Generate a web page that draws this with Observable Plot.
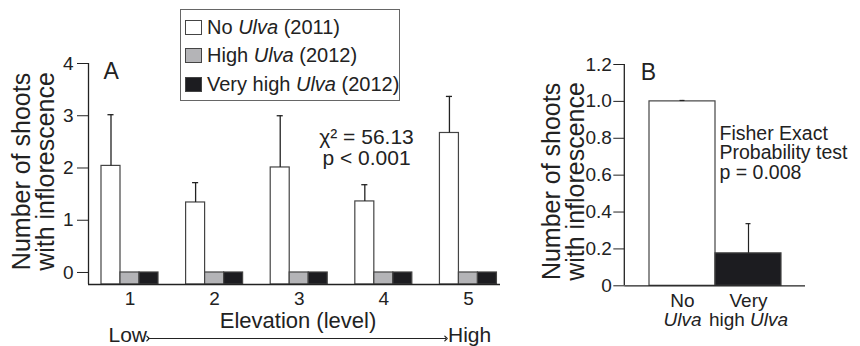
<!DOCTYPE html>
<html><head><meta charset="utf-8">
<script src="https://cdn.jsdelivr.net/npm/d3@7"></script>
<script src="https://cdn.jsdelivr.net/npm/@observablehq/plot@0.6"></script>
<style>
body{margin:0;background:#fff;font-family:"Liberation Sans",Arial,sans-serif;}
#wrap{position:relative;width:860px;height:346px;overflow:hidden;background:#fff;}
#a{position:absolute;left:0;top:0;}
#b{position:absolute;left:520px;top:0;}
#legend{position:absolute;left:180px;top:9px;width:220px;height:92px;border:1px solid #666;box-sizing:border-box;background:#fff;font-size:20px;color:#222;}
.row{position:absolute;left:4px;height:20px;display:flex;align-items:center;white-space:nowrap;}
.sw{width:17px;height:15px;border:1px solid #444;box-sizing:border-box;margin-right:5px;}
</style></head>
<body>
<div id="wrap"><div id="a"></div><div id="b"></div><div id="legend"></div></div>
<script>
// ---- data ----
const levels = [1, 2, 3, 4, 5];
const seriesA = ["No Ulva (2011)", "High Ulva (2012)", "Very high Ulva (2012)"];
const noUlva = [2.04, 1.34, 2.01, 1.36, 2.67];
const noUlvaErrTop = [3.02, 1.72, 3.0, 1.68, 3.37];
const highUlva = [0, 0, 0, 0, 0];
const veryHighUlva = [0, 0, 0, 0, 0];
const yTicksA = [0, 1, 2, 3, 4];

const groupsB = ["No Ulva", "Very high Ulva"];
const valuesB = [1.0, 0.176];
const errTopB = [1.005, 0.337];
const yTicksB = [0, 0.2, 0.4, 0.6, 0.8, 1.0, 1.2];

// ---- panel A ----
const font = "'Liberation Sans', Arial, sans-serif";
const ink = "#222";
const yMinA = -0.23;
const xDomA = [0.5095, 5.379];
const bw = 0.2246;
const rowsA = levels.flatMap((g, i) => [
  {g, k: 0, s: seriesA[0], v: noUlva[i]},
  {g, k: 1, s: seriesA[1], v: highUlva[i]},
  {g, k: 2, s: seriesA[2], v: veryHighUlva[i]}
]);
const errA = levels.map((g, i) => ({g, v: noUlva[i], e: noUlvaErrTop[i]}));
const cap = 0.036;
const arrowX = [1.2127, 4.7348];
const arrowY = -1.2636;

const plotA = Plot.plot({
  width: 520, height: 346,
  marginLeft: 88, marginRight: 20, marginTop: 63, marginBottom: 62,
  style: {fontFamily: font, fontSize: "19px", color: ink, background: "transparent", overflow: "visible"},
  x: {type: "linear", domain: xDomA},
  y: {domain: [yMinA, 4]},
  color: {domain: seriesA, range: ["#ffffff", "#b4b4b7", "#1c1c20"]},
  marks: [
    Plot.rectY(rowsA, {x1: d => d.g + (d.k - 1.5) * bw, x2: d => d.g + (d.k - 0.5) * bw, y1: yMinA, y2: "v", fill: "s", stroke: "#444", strokeWidth: 1.2}),
    Plot.ruleX(errA, {x: d => d.g - bw, y1: "v", y2: "e", stroke: ink, strokeWidth: 1.3}),
    Plot.ruleY(errA, {x1: d => d.g - bw - cap, x2: d => d.g - bw + cap, y: "e", stroke: ink, strokeWidth: 1.3}),
    Plot.ruleY([yMinA], {stroke: ink, strokeWidth: 1.3}),
    Plot.ruleX([xDomA[0]], {stroke: ink, strokeWidth: 1.3}),
    Plot.axisY({ticks: yTicksA, tickFormat: d => String(d), tickSize: 11, tickPadding: 4, fontSize: 19, label: null, stroke: ink}),
    Plot.axisX({ticks: levels, tickSize: 0, tickPadding: 7, fontSize: 19, label: null, tickFormat: d => String(d)}),
    Plot.text(["Elevation (level)"], {text: d => d, frameAnchor: "bottom", lineAnchor: "middle", textAnchor: "middle", dx: 3.5, dy: 36, fontSize: 22, fill: ink}),
    Plot.text(["Number of shoots\nwith inflorescence"], {text: d => d, frameAnchor: "left", textAnchor: "middle", lineAnchor: "middle", rotate: -90, dx: -54, dy: -2.5, fontSize: 25, lineHeight: 0.96, fill: ink}),
    Plot.text(["A"], {text: d => d, frameAnchor: "top-left", textAnchor: "start", lineAnchor: "middle", dx: 15, dy: 8, fontSize: 23, fill: ink}),
    Plot.text(["χ² = 56.13\np < 0.001"], {text: d => d, frameAnchor: "top-right", textAnchor: "middle", lineAnchor: "middle", dx: -134, dy: 84.5, fontSize: 21, lineHeight: 1.0, fill: ink}),
    Plot.link([0], {x1: arrowX[0], x2: arrowX[1], y1: arrowY, y2: arrowY, stroke: ink, strokeWidth: 1.2, markerStart: "arrow", markerEnd: "arrow"}),
    Plot.text(["Low"], {text: d => d, x: arrowX[0], y: arrowY, textAnchor: "end", lineAnchor: "middle", dx: -1, dy: -3, fontSize: 21, fill: ink}),
    Plot.text(["High"], {text: d => d, x: arrowX[1], y: arrowY, textAnchor: "start", lineAnchor: "middle", dx: 2, dy: -3, fontSize: 21, fill: ink})
  ]
});
document.getElementById("a").appendChild(plotA);

// ---- panel B ----
const dataB = groupsB.map((g, i) => ({g, v: valuesB[i], e: errTopB[i]}));
const plotB = Plot.plot({
  width: 340, height: 346,
  marginLeft: 104.3, marginRight: 55, marginTop: 64, marginBottom: 60.7,
  style: {fontFamily: font, fontSize: "19px", color: ink, background: "transparent"},
  x: {type: "band", domain: groupsB, paddingInner: 0, paddingOuter: 0.349},
  y: {domain: [0, 1.2]},
  color: {domain: groupsB, range: ["#ffffff", "#1c1c20"]},
  marks: [
    Plot.barY(dataB, {x: "g", y: "v", fill: "g", stroke: "#444", strokeWidth: 1.2}),
    Plot.ruleX(dataB, {x: "g", y1: "v", y2: "e", stroke: ink, strokeWidth: 1.2}),
    Plot.tickY(dataB, {x: "g", y: "e", insetLeft: 30.5, insetRight: 30.5, stroke: ink, strokeWidth: 1.2}),
    Plot.ruleY([0], {stroke: ink, strokeWidth: 1.3}),
    Plot.axisY({ticks: yTicksB, tickFormat: d => d === 0 ? "0" : d.toFixed(1), tickSize: 11, tickPadding: 2, fontSize: 19, label: null, stroke: ink}),
    Plot.axisX({tickSize: 0, tickPadding: 8, fontSize: 19, lineHeight: 1.0, label: null, tickFormat: d => d === "No Ulva" ? "No\nUlva" : "Very\nhigh Ulva"}),
    Plot.text(["Number of shoots\nwith inflorescence"], {text: d => d, frameAnchor: "left", textAnchor: "middle", lineAnchor: "middle", rotate: -90, dx: -60.8, dy: 6.3, fontSize: 25, lineHeight: 0.96, fill: ink}),
    Plot.text(["B"], {text: d => d, frameAnchor: "top-left", textAnchor: "start", lineAnchor: "middle", dx: 16, dy: 8, fontSize: 23, fill: ink}),
    Plot.text(["Fisher Exact\nProbability test\np = 0.008"], {text: d => d, frameAnchor: "top-left", textAnchor: "start", lineAnchor: "middle", dx: 94.7, dy: 88.5, fontSize: 19.5, lineHeight: 1.0, fill: ink})
  ]
});
document.getElementById("b").appendChild(plotB);

// y-axis domain line for B, derived from the plot's own scales
{
  const xs = plotB.scale("x"), ys = plotB.scale("y");
  const x0 = xs.range[0];
  d3.select(plotB).append("line")
    .attr("x1", x0).attr("x2", x0)
    .attr("y1", ys.apply(ys.domain[1])).attr("y2", ys.apply(ys.domain[0]))
    .attr("stroke", ink).attr("stroke-width", 1.3);
}

// italicize "Ulva" in B tick labels
d3.select(plotB).selectAll("text, tspan").each(function() {
  if (this.children.length) return;
  const t = this.textContent;
  if (!t.includes("Ulva")) return;
  const parts = t.split("Ulva");
  this.textContent = "";
  parts.forEach((p, i) => {
    if (p) this.appendChild(document.createTextNode(p));
    if (i < parts.length - 1) {
      const it = document.createElementNS("http://www.w3.org/2000/svg", "tspan");
      it.setAttribute("font-style", "italic");
      it.textContent = "Ulva";
      this.appendChild(it);
    }
  });
});

// ---- legend ----
const legendColors = ["#ffffff", "#b4b4b7", "#1c1c20"];
const legendCenters = [27.5, 55.5, 84.5];
const leg = document.getElementById("legend");
seriesA.forEach((s, i) => {
  const row = document.createElement("div");
  row.className = "row";
  row.style.top = (legendCenters[i] - 20) + "px";
  const sw = document.createElement("div");
  sw.className = "sw";
  sw.style.background = legendColors[i];
  row.appendChild(sw);
  const lab = document.createElement("span");
  lab.innerHTML = s.replace("Ulva", "<i>Ulva</i>");
  row.appendChild(lab);
  leg.appendChild(row);
});
</script>
</body></html>
